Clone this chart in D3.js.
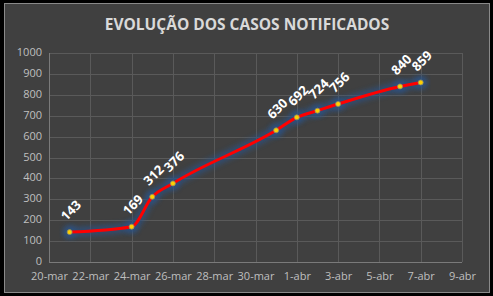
<html>
<head>
  <meta charset="utf-8">
  <title>Evolução dos casos notificados</title>
  <script src="https://d3js.org/d3.v7.min.js"></script>
  <style>
    body { margin: 0; background: #000; }
  </style>
</head>
<body>
<div id="chart"></div>
<script>
// data
var dates = ["2020-03-21", "2020-03-24", "2020-03-25", "2020-03-26", "2020-03-31",
             "2020-04-01", "2020-04-02", "2020-04-03", "2020-04-06", "2020-04-07"];
var cases = [143, 169, 312, 376, 630, 692, 724, 756, 840, 859];
var yTicks = [0, 100, 200, 300, 400, 500, 600, 700, 800, 900, 1000];
var months = ["jan", "fev", "mar", "abr", "mai", "jun", "jul", "ago", "set", "out", "nov", "dez"];

var parse = d3.timeParse("%Y-%m-%d");
var data = dates.map(function(d, i) { return { date: parse(d), value: cases[i] }; });

var width = 493, height = 296;
var margin = { top: 53, right: 31, bottom: 34, left: 49 };

var svg = d3.select("#chart").append("svg")
  .attr("width", width)
  .attr("height", height);

// background + frame
svg.append("rect").attr("width", width).attr("height", height).attr("fill", "#000");
svg.append("rect")
  .attr("x", 4.5).attr("y", 3.5)
  .attr("width", width - 8).attr("height", height - 7)
  .attr("fill", "#404040")
  .attr("stroke", "#8a8a8a")
  .attr("stroke-width", 1);

svg.append("text")
  .attr("x", 247).attr("y", 30)
  .attr("text-anchor", "middle")
  .attr("fill", "#d9d9d9")
  .style("font-family", "Open Sans")
  .style("font-weight", "bold")
  .style("font-size", "15.5px")
  .text("EVOLUÇÃO DOS CASOS NOTIFICADOS");

var x = d3.scaleTime()
  .domain([parse("2020-03-20"), parse("2020-04-09")])
  .range([margin.left, width - margin.right]);
var y = d3.scaleLinear()
  .domain([0, 1000])
  .range([height - margin.bottom, margin.top]);

var xTicks = d3.timeDay.range(parse("2020-03-20"), parse("2020-04-10"), 2);

// grid
svg.append("g").selectAll("line.h")
  .data(yTicks).enter().append("line")
  .attr("x1", margin.left).attr("x2", width - margin.right)
  .attr("y1", function(d) { return Math.round(y(d)) + 0.5; })
  .attr("y2", function(d) { return Math.round(y(d)) + 0.5; })
  .attr("stroke", "#5a5a5a");
svg.append("g").selectAll("line.v")
  .data(xTicks).enter().append("line")
  .attr("x1", function(d) { return Math.round(x(d)) + 0.5; })
  .attr("x2", function(d) { return Math.round(x(d)) + 0.5; })
  .attr("y1", margin.top).attr("y2", height - margin.bottom)
  .attr("stroke", "#5a5a5a");
// axis lines a bit lighter
svg.append("line")
  .attr("x1", margin.left + 0.5).attr("x2", margin.left + 0.5)
  .attr("y1", margin.top).attr("y2", height - margin.bottom)
  .attr("stroke", "#7a7a7a");
svg.append("line")
  .attr("x1", margin.left).attr("x2", width - margin.right)
  .attr("y1", Math.round(y(0)) + 0.5).attr("y2", Math.round(y(0)) + 0.5)
  .attr("stroke", "#7a7a7a");

// axes
var yAxis = svg.append("g")
  .attr("transform", "translate(" + (margin.left - 7) + ",-1)")
  .call(d3.axisLeft(y).tickValues(yTicks).tickSize(0).tickPadding(0)
    .tickFormat(d3.format("d")));
var xAxis = svg.append("g")
  .attr("transform", "translate(0," + (height - margin.bottom + 10) + ")")
  .call(d3.axisBottom(x).tickValues(xTicks).tickSize(0).tickPadding(0)
    .tickFormat(function(d) { return d.getDate() + "-" + months[d.getMonth()]; }));
[xAxis, yAxis].forEach(function(a) {
  a.select(".domain").remove();
  a.selectAll("text")
    .attr("fill", "#bfbfbf")
    .style("font-family", "Open Sans")
    .style("font-size", "11px");
});

// glow filter
var defs = svg.append("defs");
var f = defs.append("filter").attr("id", "glow")
  .attr("x", "-20%").attr("y", "-20%").attr("width", "140%").attr("height", "140%");
f.append("feGaussianBlur").attr("stdDeviation", 2.5);

var line = d3.line()
  .x(function(d) { return x(d.date); })
  .y(function(d) { return y(d.value); })
  .curve(d3.curveMonotoneX);

svg.append("path")
  .datum(data)
  .attr("d", line)
  .attr("fill", "none")
  .attr("stroke", "#2a5288")
  .attr("stroke-width", 10)
  .attr("stroke-linecap", "round")
  .attr("opacity", 0.65)
  .attr("filter", "url(#glow)");

svg.append("g").selectAll("circle.g")
  .data(data).enter().append("circle")
  .attr("cx", function(d) { return x(d.date); })
  .attr("cy", function(d) { return y(d.value); })
  .attr("r", 7)
  .attr("fill", "#2a5288")
  .attr("opacity", 0.65)
  .attr("filter", "url(#glow)");

svg.append("path")
  .datum(data)
  .attr("d", line)
  .attr("fill", "none")
  .attr("stroke", "#ff0000")
  .attr("stroke-width", 3)
  .attr("stroke-linecap", "round");

svg.append("g").selectAll("circle.m")
  .data(data).enter().append("circle")
  .attr("cx", function(d) { return x(d.date); })
  .attr("cy", function(d) { return y(d.value); })
  .attr("r", 2.5)
  .attr("fill", "#ffd000")
  .attr("stroke", "#8a8a6a")
  .attr("stroke-width", 0.8);

// data labels, rotated
svg.append("g").selectAll("text")
  .data(data).enter().append("text")
  .attr("transform", function(d) {
    return "translate(" + (x(d.date) + 1) + "," + (y(d.value) - 22) + ") rotate(-45)";
  })
  .attr("text-anchor", "middle")
  .attr("dominant-baseline", "central")
  .attr("fill", "#ffffff")
  .style("font-family", "Open Sans")
  .style("font-weight", "bold")
  .style("font-size", "13px")
  .text(function(d) { return d.value; });
</script>
</body>
</html>
